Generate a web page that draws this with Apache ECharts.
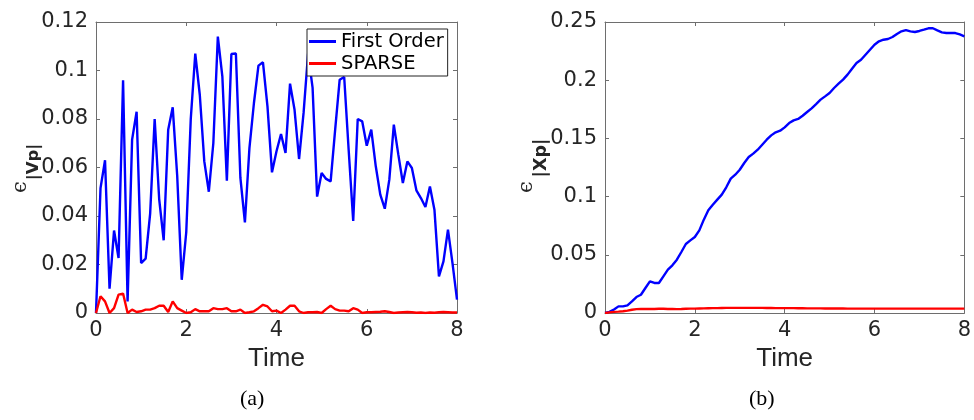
<!DOCTYPE html>
<html>
<head>
<meta charset="utf-8">
<script src="https://cdn.jsdelivr.net/npm/echarts@6/dist/echarts.min.js"></script>
<style>html,body{margin:0;padding:0;background:#fff}#c{width:974px;height:420px}</style>
</head>
<body>
<div id="c"></div>
<script>
const time = [0,0.1,0.2,0.3,0.4,0.5,0.6,0.7,0.8,0.9,1,1.1,1.2,1.3,1.4,1.5,1.6,1.7,1.8,1.9,2,2.1,2.2,2.3,2.4,2.5,2.6,2.7,2.8,2.9,3,3.1,3.2,3.3,3.4,3.5,3.6,3.7,3.8,3.9,4,4.1,4.2,4.3,4.4,4.5,4.6,4.7,4.8,4.9,5,5.1,5.2,5.3,5.4,5.5,5.6,5.7,5.8,5.9,6,6.1,6.2,6.3,6.4,6.5,6.6,6.7,6.8,6.9,7,7.1,7.2,7.3,7.4,7.5,7.6,7.7,7.8,7.9,8];

const vpFirstOrder = [0,0.0515,0.063,0.010,0.034,0.0227,0.096,0.0048,0.0715,0.083,
0.0206,0.0224,0.041,0.080,0.047,0.030,0.0756,0.0848,0.0564,0.0137,
0.0333,0.080,0.107,0.090,0.0625,0.050,0.070,0.114,0.0976,0.0546,
0.1068,0.107,0.0557,0.0374,0.068,0.0866,0.102,0.1034,0.0852,0.058,
0.0667,0.0738,0.066,0.0946,0.0838,0.0635,0.0825,0.107,0.0928,0.048,
0.0577,0.0553,0.0543,0.0756,0.0962,0.0973,0.067,0.038,0.080,0.079,
0.069,0.0756,0.0605,0.0488,0.043,0.055,0.0777,0.0653,0.0536,0.0625,
0.0598,0.0506,0.0474,0.0437,0.0522,0.0426,0.0151,0.0213,0.0344,0.0206,
0.0055];

const vpSparse = [0,0.0069,0.0048,0,0.002,0.0076,0.008,0,0.0014,0.0004,
0.0007,0.0014,0.0014,0.002,0.003,0.003,0.0004,0.0048,0.002,0.001,
0,0.0003,0.0016,0.0007,0.0007,0.0007,0.002,0.0016,0.0016,0.002,
0.0007,0.0007,0.0014,0,0.0003,0.0007,0.002,0.0034,0.0027,0.0007,
0.001,0,0.0014,0.003,0.003,0.0007,0,0.0003,0.0003,0.0004,
0,0.0016,0.003,0.0016,0.001,0.001,0.0007,0.002,0.0014,0,
0.0003,0.0003,0.0004,0.0005,0.0007,0.0004,0,0.0002,0.0003,0.0004,
0.0003,0.0001,0.0002,0,0.0002,0.0001,0.0003,0.0004,0.0003,0.0002,
0.0002];

const xpFirstOrder = [0,0.001,0.003,0.0057,0.0057,0.0066,0.010,0.0137,0.0157,0.0215,
0.0272,0.0258,0.0258,0.0315,0.0372,0.041,0.0458,0.0524,0.0593,0.0624,
0.0653,0.071,0.0802,0.0882,0.093,0.0974,0.1017,0.108,0.1154,0.1188,
0.1231,0.1289,0.134,0.1369,0.1403,0.1446,0.1489,0.1526,0.1552,0.1566,
0.1595,0.1632,0.1655,0.1667,0.1695,0.1727,0.1758,0.1795,0.1833,0.1861,
0.189,0.1933,0.197,0.2005,0.2048,0.2099,0.2148,0.2176,0.2219,0.2262,
0.2305,0.2334,0.2348,0.2354,0.2371,0.2397,0.242,0.2431,0.242,0.2414,
0.2423,0.2434,0.2446,0.2446,0.2428,0.2411,0.2405,0.2405,0.2405,0.2394,
0.2377];

const xpSparse = [0,0.0005,0.001,0.0012,0.0015,0.002,0.0028,0.0033,0.0035,0.0035,
0.0035,0.0035,0.0036,0.0036,0.0035,0.0034,0.0033,0.0034,0.0036,0.0038,
0.0038,0.0039,0.004,0.0041,0.0042,0.0042,0.0043,0.0044,0.0044,0.0044,
0.0044,0.0044,0.0044,0.0044,0.0044,0.0044,0.0043,0.0043,0.0042,0.0042,
0.0042,0.0042,0.0042,0.0041,0.0041,0.004,0.004,0.004,0.004,0.0039,
0.0039,0.0039,0.0039,0.0039,0.0038,0.0038,0.0038,0.0038,0.0038,0.0038,
0.0038,0.0038,0.0038,0.0038,0.0038,0.0038,0.0038,0.0038,0.0038,0.0038,
0.0038,0.0038,0.0038,0.0038,0.0038,0.0038,0.0038,0.0038,0.0038,0.0038,
0.0038];

const seriesNames = ['First Order', 'SPARSE'];
const xTicks = {min: 0, max: 8, interval: 2};
const yTicksA = {min: 0, max: 0.12, interval: 0.02};
const yTicksB = {min: 0, max: 0.25, interval: 0.05};
const xLabel = 'Time';
const yLabelSymbol = 'ϵ';
const yLabelSubs = ['|Vp|', '|Xp|'];
const panelLabels = ['(a)', '(b)'];

const pair = arr => arr.map((v, i) => [time[i], v]);
const FONT = 'DejaVu Sans';
const AX = '#6e6e6e';
const TXT = '#262626';

function xAxes(grid) {
  return [
    {gridIndex: grid, type: 'value', position: 'bottom', min: xTicks.min, max: xTicks.max, interval: xTicks.interval,
     name: xLabel, nameLocation: 'middle', nameGap: 28,
     nameTextStyle: {fontFamily: 'Liberation Sans', fontSize: 26, color: TXT},
     axisLine: {lineStyle: {color: AX, width: 1}},
     axisTick: {inside: true, length: 4, lineStyle: {color: AX}},
     axisLabel: {fontFamily: FONT, fontSize: 21, color: TXT, margin: 7},
     splitLine: {show: false}},
    {gridIndex: grid, type: 'value', position: 'top', min: xTicks.min, max: xTicks.max, interval: xTicks.interval,
     axisLine: {show: true, onZero: false, lineStyle: {color: AX, width: 1}},
     axisTick: {inside: true, length: 4, lineStyle: {color: AX}},
     axisLabel: {show: false}, splitLine: {show: false}}
  ];
}
function yAxes(grid, ticks) {
  return [
    {gridIndex: grid, type: 'value', position: 'left', min: ticks.min, max: ticks.max, interval: ticks.interval,
     axisLine: {show: true, onZero: false, lineStyle: {color: AX, width: 1}},
     axisTick: {inside: true, length: 4, lineStyle: {color: AX}},
     axisLabel: {fontFamily: FONT, fontSize: 21, color: TXT, margin: 8},
     splitLine: {show: false}},
    {gridIndex: grid, type: 'value', position: 'right', min: ticks.min, max: ticks.max, interval: ticks.interval,
     axisLine: {show: true, onZero: false, lineStyle: {color: AX, width: 1}},
     axisTick: {inside: true, length: 4, lineStyle: {color: AX}},
     axisLabel: {show: false}, splitLine: {show: false}}
  ];
}
function line(name, data, color, xi, yi) {
  return {name: name, type: 'line', xAxisIndex: xi, yAxisIndex: yi, data: pair(data),
          showSymbol: false, symbol: 'none', lineStyle: {color: color, width: 2.4}, itemStyle: {color: color},
          animation: false, z: 2};
}
function rotText(text, x, y, font) {
  return {type: 'text', x: x, y: y, rotation: Math.PI / 2,
          style: {text: text, font: font, fill: TXT, textAlign: 'center', textVerticalAlign: 'middle'}};
}

const chart = echarts.init(document.getElementById('c'), null, {renderer: 'canvas'});
chart.setOption({
  animation: false,
  backgroundColor: '#fff',
  grid: [
    {left: 96, top: 22, width: 361, height: 291},
    {left: 605, top: 22, width: 362, height: 291}
  ],
  xAxis: [...xAxes(0), ...xAxes(1)],
  yAxis: [...yAxes(0, yTicksA), ...yAxes(1, yTicksB)],
  legend: {
    data: seriesNames, orient: 'vertical', left: 307, top: 29,
    backgroundColor: '#fff', borderColor: '#222', borderWidth: 1, borderRadius: 0,
    padding: [2, 4, 2, 2], itemGap: 1, itemWidth: 27, itemHeight: 3, icon: 'rect',
    selectedMode: false,
    textStyle: {fontFamily: FONT, fontSize: 19.5, color: '#000', lineHeight: 21}
  },
  series: [
    line(seriesNames[0], vpFirstOrder, '#0000ff', 0, 0),
    line(seriesNames[1], vpSparse, '#ff0000', 0, 0),
    line(seriesNames[0], xpFirstOrder, '#0000ff', 2, 2),
    line(seriesNames[1], xpSparse, '#ff0000', 2, 2)
  ],
  graphic: [
    rotText(yLabelSymbol, 21, 187, '21px "DejaVu Serif"'),
    rotText(yLabelSubs[0], 34, 162, 'bold 16.5px "DejaVu Sans"'),
    rotText(yLabelSymbol, 527, 187, '21px "DejaVu Serif"'),
    rotText(yLabelSubs[1], 541, 158, 'bold 17.5px "DejaVu Sans"'),
    {type: 'text', left: 240, top: 388, style: {text: panelLabels[0], font: '22px "Liberation Serif"', fill: '#000'}},
    {type: 'text', left: 749, top: 388, style: {text: panelLabels[1], font: '22px "Liberation Serif"', fill: '#000'}}
  ]
});
</script>
</body>
</html>
